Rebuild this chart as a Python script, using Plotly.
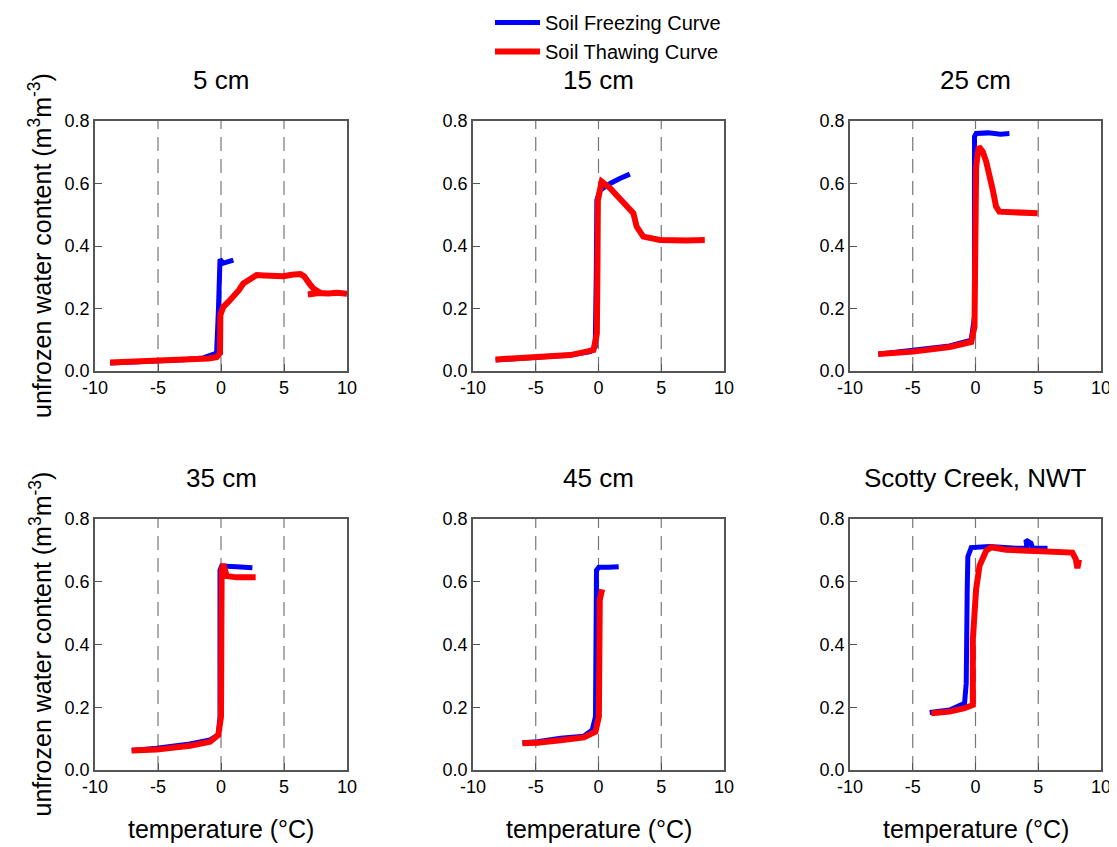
import plotly.graph_objects as go

# ---------------- data (temperature °C, unfrozen water content m3/m3) ----------------
panel_titles = ["5 cm", "15 cm", "25 cm", "35 cm", "45 cm", "Scotty Creek, NWT"]

freeze_5_x = [-8.8, -6.0, -3.0, -1.4, -0.35, -0.2, -0.12, -0.08, 0.18, 0.5, 0.98]
freeze_5_y = [0.026, 0.030, 0.036, 0.042, 0.057, 0.20, 0.31, 0.357, 0.345, 0.35, 0.355]
thaw_5_x = [-8.8, -6.0, -3.0, -1.0, -0.35, -0.08, -0.05, 0.18, 0.6, 0.98, 1.4, 1.77, 2.3, 2.83, 3.4,
            3.9, 4.5, 4.96, 5.6, 6.3, 6.6, 6.8, 7.1, 7.36, 7.9, 6.9, 7.6, 8.5, 9.2, 10.0]
thaw_5_y = [0.027, 0.030, 0.035, 0.040, 0.044, 0.057, 0.179, 0.205, 0.222, 0.238, 0.258, 0.28, 0.295, 0.307, 0.306,
            0.305, 0.303, 0.303, 0.308, 0.31, 0.303, 0.289, 0.275, 0.263, 0.25, 0.245, 0.25, 0.248, 0.25, 0.247]

freeze_15_x = [-8.2, -4.9, -2.25, -0.66, -0.26, -0.18, -0.13, 0.13, 0.5, 0.93, 1.7, 2.5]
freeze_15_y = [0.035, 0.046, 0.051, 0.062, 0.078, 0.30, 0.547, 0.579, 0.59, 0.60, 0.616, 0.63]
thaw_15_x = [-8.2, -4.9, -2.25, -0.4, -0.13, -0.08, -0.05, 0.26, 0.93, 1.5, 1.98, 2.5, 2.78, 3.04, 3.57,
             4.9, 5.7, 7.0, 8.47]
thaw_15_y = [0.037, 0.044, 0.051, 0.067, 0.12, 0.35, 0.547, 0.606, 0.585, 0.56, 0.537, 0.515, 0.505, 0.462, 0.43,
             0.419, 0.417, 0.418, 0.419]

freeze_25_x = [-7.75, -4.97, -2.06, -0.34, -0.08, -0.08, 0.05, 1.0, 2.0, 2.7]
freeze_25_y = [0.054, 0.065, 0.08, 0.099, 0.174, 0.75, 0.76, 0.762, 0.758, 0.76]
thaw_25_x = [-7.75, -4.97, -2.06, -0.34, -0.08, 0.0, 0.05, 0.26, 0.58, 0.85, 1.11, 1.38, 1.64, 1.9, 2.96, 4.95]
thaw_25_y = [0.054, 0.062, 0.077, 0.093, 0.142, 0.40, 0.654, 0.718, 0.702, 0.67, 0.632, 0.579, 0.526, 0.51, 0.508, 0.505]

freeze_35_x = [-7.09, -5.1, -2.46, -0.87, -0.21, -0.08, -0.08, 0.05, 1.24, 2.49]
freeze_35_y = [0.062, 0.069, 0.083, 0.096, 0.112, 0.17, 0.637, 0.65, 0.648, 0.645]
thaw_35_x = [-7.09, -5.1, -2.46, -0.87, -0.21, 0.0, 0.05, 0.19, 0.45, 1.24, 2.75]
thaw_35_y = [0.062, 0.065, 0.077, 0.09, 0.112, 0.17, 0.637, 0.656, 0.618, 0.614, 0.614]

freeze_45_x = [-6.06, -4.87, -3.02, -1.16, -0.5, -0.24, -0.16, 0.03, 0.8, 1.61]
freeze_45_y = [0.087, 0.09, 0.101, 0.108, 0.127, 0.17, 0.637, 0.646, 0.646, 0.648]
thaw_45_x = [-6.06, -4.87, -3.02, -1.16, -0.24, 0.03, 0.1, 0.29]
thaw_45_y = [0.085, 0.087, 0.095, 0.104, 0.122, 0.17, 0.542, 0.576]

freeze_sc_x = [-3.65, -2.06, -0.87, -0.74, -0.66, -0.61, -0.34, 1.11, 3.23, 4.1, 4.02, 4.3, 4.42, 4.55, 5.74]
freeze_sc_y = [0.183, 0.191, 0.213, 0.276, 0.574, 0.68, 0.709, 0.712, 0.707, 0.707, 0.733, 0.725, 0.723, 0.707, 0.707]
thaw_sc_x = [-3.52, -2.06, -0.87, -0.21, -0.21, -0.21, 0.05, 0.32, 0.85, 1.24, 2.43, 5.08, 7.72, 7.99, 8.12, 8.25]
thaw_sc_y = [0.181, 0.186, 0.197, 0.207, 0.245, 0.418, 0.577, 0.651, 0.699, 0.71, 0.702, 0.696, 0.693, 0.672, 0.643, 0.67]

freeze_x = [freeze_5_x, freeze_15_x, freeze_25_x, freeze_35_x, freeze_45_x, freeze_sc_x]
freeze_y = [freeze_5_y, freeze_15_y, freeze_25_y, freeze_35_y, freeze_45_y, freeze_sc_y]
thaw_x = [thaw_5_x, thaw_15_x, thaw_25_x, thaw_35_x, thaw_45_x, thaw_sc_x]
thaw_y = [thaw_5_y, thaw_15_y, thaw_25_y, thaw_35_y, thaw_45_y, thaw_sc_y]

x_tickvals = [-10, -5, 0, 5, 10]
x_ticktext = ["-10", "-5", "0", "5", "10"]
y_tickvals = [0.0, 0.2, 0.4, 0.6, 0.8]
dashed_at = [-5, 0, 5]

# ---------------- layout geometry (figure pixels; page body adds an 8px offset) ----------------
W, H = 1109, 839
col_px = [(87, 339), (465, 716), (842, 1093)]
row_px = [(113, 363), (511, 762)]
FONT = "Liberation Sans, Arial, sans-serif"

fig = go.Figure()
layout = dict(
    template="none",
    width=W, height=H, margin=dict(l=0, r=0, t=0, b=0, pad=0, autoexpand=False),
    paper_bgcolor="white", plot_bgcolor="white",
    font=dict(family=FONT, color="black"),
    showlegend=True,
    legend=dict(x=482 / W, y=1 + 5 / H, xanchor="left", yanchor="top",
                font=dict(size=20, family=FONT), bgcolor="rgba(0,0,0,0)",
                tracegroupgap=0, itemwidth=45, borderwidth=0),
)
annotations = []
shapes = []

for i in range(6):
    r, c = divmod(i, 3)
    k = i + 1
    xa = "xaxis" if k == 1 else f"xaxis{k}"
    ya = "yaxis" if k == 1 else f"yaxis{k}"
    xref = "x" if k == 1 else f"x{k}"
    yref = "y" if k == 1 else f"y{k}"
    x0, x1 = col_px[c]
    y0, y1 = row_px[r]
    layout[xa] = dict(domain=[x0 / W, x1 / W], range=[-10, 10], anchor=yref, automargin=False,
                      tickvals=x_tickvals, ticktext=x_ticktext, ticks="inside", ticklen=7,
                      tickcolor="#555", showline=True, linecolor="#555", linewidth=1.5, mirror=True,
                      showgrid=False, zeroline=False, tickfont=dict(size=18, family=FONT))
    layout[ya] = dict(domain=[1 - y1 / H, 1 - y0 / H], range=[0, 0.8], anchor=xref, automargin=False,
                      tickvals=y_tickvals, tickformat=".1f", ticks="inside", ticklen=7,
                      tickcolor="#555", showline=True, linecolor="#555", linewidth=1.5, mirror=True,
                      showgrid=False, zeroline=False, tickfont=dict(size=18, family=FONT))
    for d in dashed_at:
        shapes.append(dict(type="line", xref=xref, yref=f"{yref} domain", x0=d, x1=d, y0=0, y1=1,
                           line=dict(color="#777", width=1.2, dash="14px,8px"), layer="below"))
    fig.add_trace(go.Scatter(x=freeze_x[i], y=freeze_y[i], mode="lines", xaxis=xref, yaxis=yref,
                             line=dict(color="#0000FF", width=5), name="Soil Freezing Curve",
                             legendgroup="f", showlegend=(i == 0)))
    fig.add_trace(go.Scatter(x=thaw_x[i], y=thaw_y[i], mode="lines", xaxis=xref, yaxis=yref,
                             line=dict(color="#FF0000", width=6), name="Soil Thawing Curve",
                             legendgroup="t", showlegend=(i == 0)))
    # panel title
    annotations.append(dict(text=panel_titles[i], x=(x0 + x1) / 2 / W, y=1 - (y0 - 41) / H,
                            xref="paper", yref="paper", xanchor="center", yanchor="middle",
                            showarrow=False, font=dict(size=26, family=FONT)))

# y-axis titles
for (y0, y1) in row_px:
    annotations.append(dict(text="unfrozen water content (m<sup>3</sup>m<sup>-3</sup>)",
                            x=32 / W, y=1 - (y0 + y1) / 2 / H, xref="paper", yref="paper",
                            xanchor="center", yanchor="middle", textangle=-90, showarrow=False,
                            font=dict(size=25, family=FONT)))
# x-axis titles (bottom row)
for (x0, x1) in col_px:
    annotations.append(dict(text="temperature (°C)", x=(x0 + x1) / 2 / W, y=1 - 821 / H,
                            xref="paper", yref="paper", xanchor="center", yanchor="middle",
                            showarrow=False, font=dict(size=25, family=FONT)))

layout["annotations"] = annotations
layout["shapes"] = shapes
fig.update_layout(**layout)
fig.write_html("out.html")
